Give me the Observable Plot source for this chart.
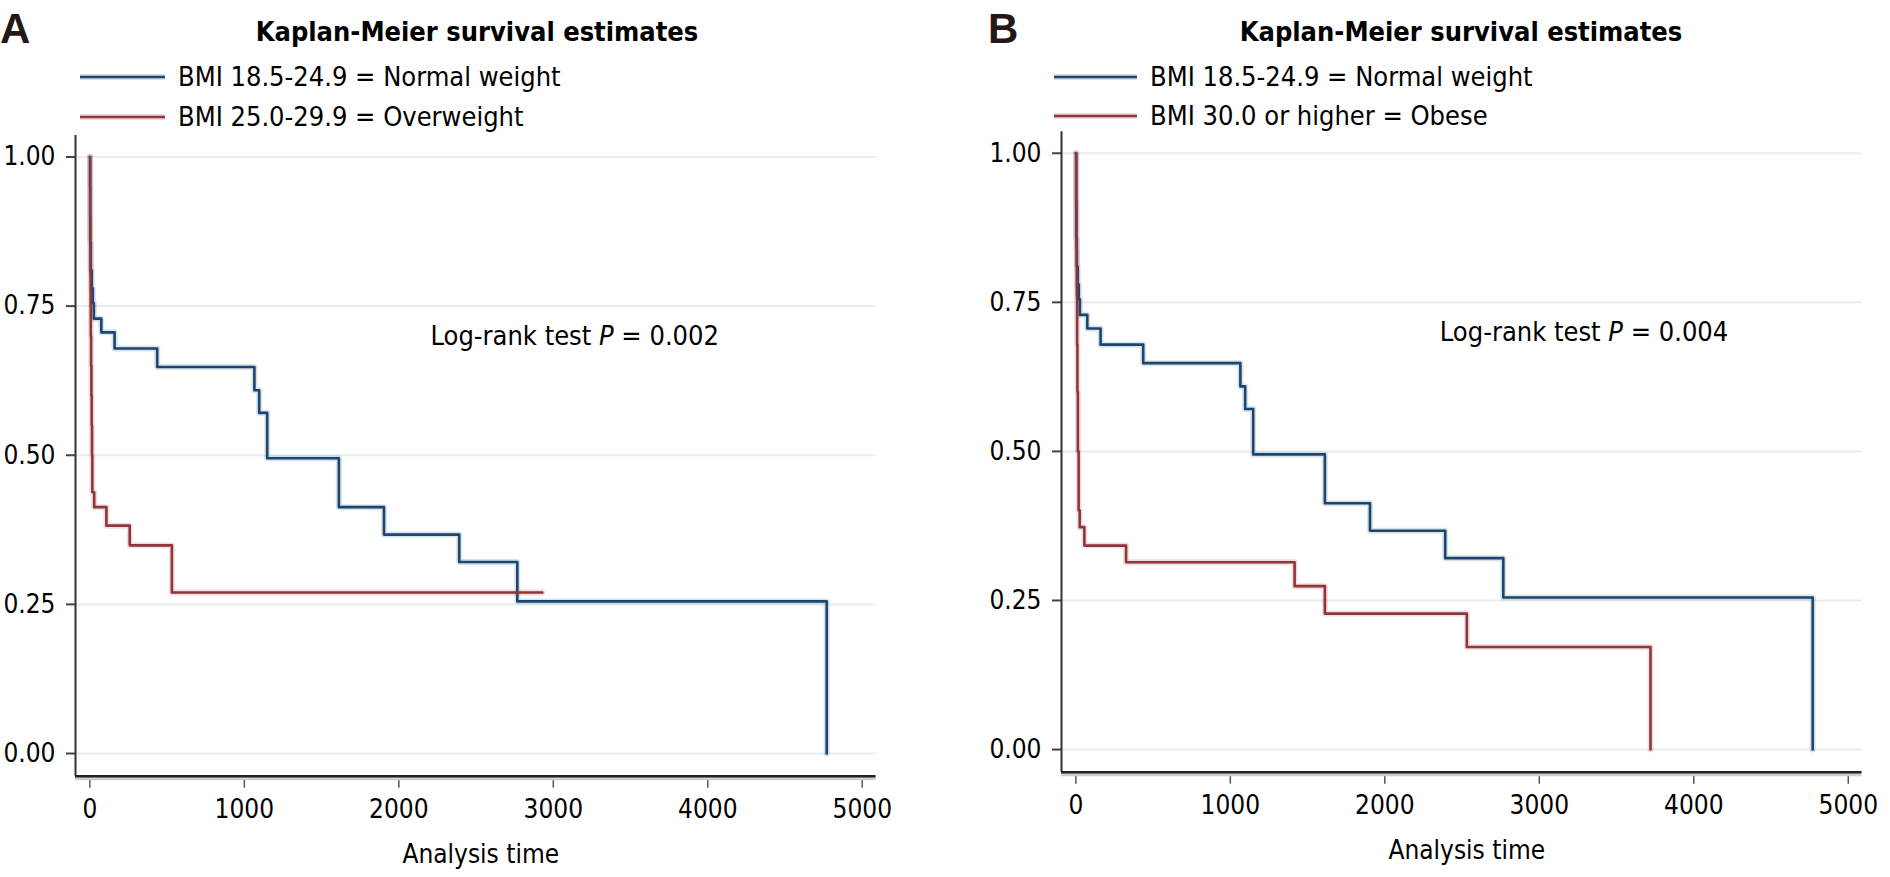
<!DOCTYPE html>
<html>
<head>
<meta charset="utf-8">
<script src="https://cdn.jsdelivr.net/npm/d3@7"></script>
<script src="https://cdn.jsdelivr.net/npm/@observablehq/plot@0.6"></script>
<style>
  html, body { margin: 0; padding: 0; background: #fff; }
  #wrap { position: relative; width: 1890px; height: 877px; overflow: hidden; background: #fff; }
  #wrap > svg, #wrap > figure { position: absolute; margin: 0; }
</style>
</head>
<body>
<div id="wrap"></div>
<script>
// ---------- data ----------
const FONT = "'DejaVu Sans Condensed', 'DejaVu Sans', sans-serif";
const panelLetters = ["A", "B"];
const titleText = "Kaplan-Meier survival estimates";
const xLabel = "Analysis time";

const groupsA = ["BMI 18.5-24.9 = Normal weight", "BMI 25.0-29.9 = Overweight"];
const groupsB = ["BMI 18.5-24.9 = Normal weight", "BMI 30.0 or higher = Obese"];
const seriesColors = ["#1a476f", "#90353b"];

const xTicks = [0, 1000, 2000, 3000, 4000, 5000];
const yTicks = [0, 0.25, 0.5, 0.75, 1];
const xDomain = [-93, 5089];
const yDomain = [-0.038, 1.036];

// Normal weight (same in both panels)
const normalTime = [0, 2, 6, 12, 19, 26, 74, 160, 436, 1065, 1096, 1148, 1612, 1904, 2391, 2767, 4770];
const normalSurv = [1.000, 0.857, 0.810, 0.780, 0.755, 0.729, 0.706, 0.679, 0.648, 0.609, 0.571, 0.495, 0.413, 0.367, 0.321, 0.255, 0.000];

// Overweight (panel A)
const overTime = [0, 1, 2, 3, 4, 5, 6, 8, 10, 12, 14, 16, 28, 107, 258, 531, 2929];
const overSurv = [1.000, 0.95, 0.90, 0.85, 0.80, 0.75, 0.70, 0.65, 0.60, 0.55, 0.50, 0.438, 0.413, 0.382, 0.349, 0.270, 0.270];

// Obese (panel B)
const obeseTime = [0, 2, 4, 6, 8, 10, 13, 18, 25, 55, 325, 1416, 1612, 2531, 3720];
const obeseSurv = [1.000, 0.92, 0.84, 0.76, 0.68, 0.60, 0.50, 0.401, 0.373, 0.342, 0.314, 0.274, 0.228, 0.172, 0.000];

const logRankP = ["0.002", "0.004"];
const logRankAt = [[2205, 0.70], [2356, 0.70]];

// ---------- helpers ----------
function series(name, times, surv) {
  return times.map((t, i) => ({g: name, t, s: surv[i]}));
}

const panels = [
  {
    letter: panelLetters[0], groups: groupsA,
    data: [...series(groupsA[0], normalTime, normalSurv), ...series(groupsA[1], overTime, overSurv)],
    p: logRankP[0], at: logRankAt[0],
    left: 0, mL: 75, mR: 69.5, mT: 135, mB: 101.3,
    letterX: 0, titleX: 477, legLine: [80, 165], legText: 178, legY: [77, 117]
  },
  {
    letter: panelLetters[1], groups: groupsB,
    data: [...series(groupsB[0], normalTime, normalSurv), ...series(groupsB[1], obeseTime, obeseSurv)],
    p: logRankP[1], at: logRankAt[1],
    left: 945, mL: 116, mR: 28.5, mT: 131.3, mB: 105.3,
    letterX: 988, titleX: 1461, legLine: [1054, 1137], legText: 1150, legY: [77, 116]
  }
];

const wrap = document.getElementById("wrap");

for (const P of panels) {
  const chart = Plot.plot({
    width: 945,
    height: 877,
    marginLeft: P.mL,
    marginRight: P.mR,
    marginTop: P.mT,
    marginBottom: P.mB,
    x: {domain: xDomain},
    y: {domain: yDomain},
    color: {domain: P.groups, range: seriesColors},
    style: {fontFamily: FONT, fontSize: "26px", color: "#000", background: "transparent", overflow: "visible"},
    marks: [
      Plot.gridY(yTicks, {stroke: "#e6eeee", strokeOpacity: 1, strokeWidth: 2}),
      Plot.axisY(yTicks, {tickFormat: d3.format(".2f"), tickSize: 9, tickPadding: 11, fontSize: 26, stroke: "#444", strokeWidth: 2, label: null, fill: "#000"}),
      Plot.axisX(xTicks, {tickFormat: d3.format("d"), tickSize: 12, tickPadding: 11, fontSize: 26, stroke: "#555", strokeWidth: 1.5, label: null, fill: "#000"}),
      Plot.ruleX([xDomain[0]], {stroke: "#333", strokeWidth: 2}),
      Plot.ruleY([yDomain[0]], {stroke: "#c8cfcf", strokeWidth: 5, dy: 1.5}),
      Plot.ruleY([yDomain[0]], {stroke: "#222", strokeWidth: 2.5}),
      Plot.line(P.data, {x: "t", y: "s", z: "g", stroke: "g", curve: "step-after", strokeWidth: 6, strokeOpacity: 0.16}),
      Plot.line(P.data, {x: "t", y: "s", z: "g", stroke: "g", curve: "step-after", strokeWidth: 2.6}),
      Plot.text([{t: P.at[0], s: P.at[1], label: "Log-rank test P = " + P.p}], {
        x: "t", y: "s", text: "label", textAnchor: "start", lineAnchor: "middle", fontSize: 27, fill: "#000", className: "logrank"
      }),
      Plot.text([xLabel], {frameAnchor: "bottom", dy: 78, dx: 5, text: d => d, fontSize: 26, lineAnchor: "middle", fill: "#000"})
    ]
  });
  chart.style.left = P.left + "px";
  chart.style.top = "0px";
  wrap.appendChild(chart);

  // italic P in log-rank annotation
  d3.select(chart).selectAll("text").each(function() {
    const el = d3.select(this);
    const txt = el.text();
    if (txt.startsWith("Log-rank test P")) {
      const rest = txt.slice("Log-rank test P".length);
      el.text(null);
      el.append("tspan").text("Log-rank test ");
      el.append("tspan").attr("font-style", "italic").text("P");
      el.append("tspan").text(rest);
    }
  });
}

// ---------- overlay: letters, titles, legends ----------
const ov = d3.select(wrap).append("svg")
  .attr("width", 1890).attr("height", 877)
  .style("left", "0px").style("top", "0px")
  .style("pointer-events", "none");

for (const P of panels) {
  ov.append("text").attr("x", P.letterX).attr("y", 43)
    .attr("font-family", "'Liberation Sans', Arial, sans-serif").attr("font-weight", "bold")
    .attr("font-size", 42).attr("fill", "#231815").text(P.letter);
  ov.append("text").attr("x", P.titleX).attr("y", 41)
    .attr("text-anchor", "middle").attr("font-family", FONT).attr("font-weight", "bold")
    .attr("font-size", 27).attr("fill", "#000").text(titleText);
  P.groups.forEach((g, i) => {
    const y = P.legY[i];
    ov.append("line").attr("x1", P.legLine[0]).attr("x2", P.legLine[1]).attr("y1", y).attr("y2", y)
      .attr("stroke", seriesColors[i]).attr("stroke-opacity", 0.18).attr("stroke-width", 6);
    ov.append("line").attr("x1", P.legLine[0]).attr("x2", P.legLine[1]).attr("y1", y).attr("y2", y)
      .attr("stroke", seriesColors[i]).attr("stroke-width", 2.6);
    ov.append("text").attr("x", P.legText).attr("y", y + 9)
      .attr("font-family", FONT).attr("font-size", 27).attr("fill", "#000").text(g);
  });
}
</script>
</body>
</html>
